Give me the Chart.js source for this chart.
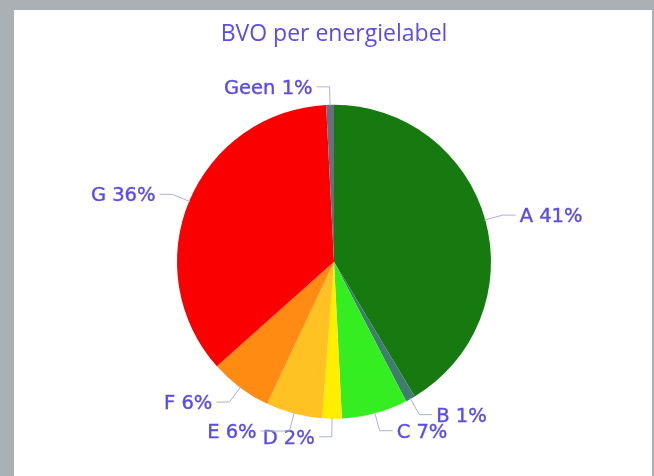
<!DOCTYPE html>
<html>
<head>
<meta charset="utf-8">
<script src="https://cdn.jsdelivr.net/npm/chart.js@4"></script>
<style>
    html, body { margin: 0; padding: 0; }
    body { width: 654px; height: 476px; background: #aab0b3; position: relative; overflow: hidden; }
    #panel { position: absolute; left: 14px; top: 10px; width: 638px; height: 466px; background: #ffffff; }
    #bvoChart { position: absolute; left: 0; top: 0; }
</style>
</head>
<body>
<div id="panel">
    <canvas id="bvoChart" width="638" height="466"></canvas>
</div>
<script>
// Energy labels, share of BVO (percent)
const labels = ['A', 'B', 'C', 'D', 'E', 'F', 'G', 'Geen'];
const shares = [41.4, 1.0, 6.8, 2.0, 5.8, 6.4, 35.8, 0.8];
const sliceColors = ['#177a10', '#3f7d6e', '#35ee22', '#ffee00', '#ffc222', '#ff8b12', '#fb0000', '#66707a'];

const textColor = '#5a4ce6';
const leaderColor = '#aeaed6';

// Draws the outside labels with small elbow leader lines
const outsideLabels = {
    id: 'outsideLabels',
    afterDatasetsDraw(chart) {
        const ctx = chart.ctx;
        const meta = chart.getDatasetMeta(0);
        const placed = [];
        const textH = 16;
        ctx.save();
        ctx.font = '19.5px "DejaVu Sans"';
        ctx.textBaseline = 'middle';
        meta.data.forEach((arc, i) => {
            const p = arc.getProps(['x', 'y', 'startAngle', 'endAngle', 'outerRadius'], true);
            const mid = (p.startAngle + p.endAngle) / 2;
            const cos = Math.cos(mid);
            const sin = Math.sin(mid);
            const ax = p.x + cos * (p.outerRadius - 1);
            const ay = p.y + sin * (p.outerRadius - 1);
            const ex = p.x + cos * (p.outerRadius + 18);
            const ey = p.y + sin * (p.outerRadius + 18);
            const dir = cos >= 0 ? 1 : -1;
            const text = labels[i] + ' ' + Math.round(shares[i]) + '%';
            const w = ctx.measureText(text).width;
            let hx = ex + dir * 13;

            // push the label sideways if it runs into one already placed
            placed.forEach(b => {
                const tx = hx + dir * 4;
                const left = dir > 0 ? tx : tx - w;
                const right = dir > 0 ? tx + w : tx;
                if (Math.abs(b.y - ey) < textH && left < b.right + 6 && right > b.left - 6) {
                    hx += dir > 0 ? (b.right + 6 - left) : -(right - (b.left - 6));
                }
            });
            const tx = hx + dir * 4;
            placed.push({ left: dir > 0 ? tx : tx - w, right: dir > 0 ? tx + w : tx, y: ey });

            ctx.strokeStyle = leaderColor;
            ctx.lineWidth = 1;
            ctx.beginPath();
            ctx.moveTo(ax, ay);
            ctx.lineTo(ex, ey);
            ctx.lineTo(hx, ey);
            ctx.stroke();

            ctx.fillStyle = textColor;
            ctx.strokeStyle = textColor;
            ctx.lineWidth = 0.4;
            ctx.textAlign = dir > 0 ? 'left' : 'right';
            ctx.fillText(text, tx, ey + 2);
            ctx.strokeText(text, tx, ey + 2);
        });
        ctx.restore();
    }
};

new Chart(document.getElementById('bvoChart'), {
    type: 'pie',
    data: {
        labels: labels,
        datasets: [{
            data: shares,
            backgroundColor: sliceColors,
            borderWidth: 0
        }]
    },
    options: {
        responsive: false,
        animation: false,
        layout: {
            padding: { left: 163, right: 161, top: 0, bottom: 57 }
        },
        plugins: {
            legend: { display: false },
            tooltip: { enabled: false },
            title: {
                display: true,
                text: 'BVO per energielabel',
                color: textColor,
                font: { family: 'Open Sans', size: 23, weight: 'normal' },
                padding: { top: 11, bottom: 56 }
            }
        }
    },
    plugins: [outsideLabels]
});
</script>
</body>
</html>
